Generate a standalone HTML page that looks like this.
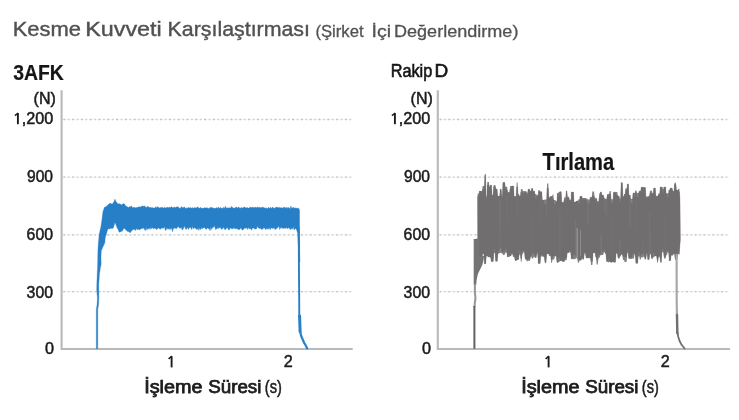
<!DOCTYPE html>
<html><head><meta charset="utf-8">
<style>
html,body{margin:0;padding:0;background:#fff;}
body{width:739px;height:420px;position:relative;overflow:hidden;font-family:"Liberation Sans",sans-serif;}
svg{position:absolute;left:0;top:0;display:block;filter:blur(0.45px);}
text{font-family:"Liberation Sans",sans-serif;}
</style></head><body>
<svg width="739" height="420" viewBox="0 0 739 420">
<text x="12.7" y="36" font-size="21" font-weight="normal" fill="#515151" textLength="68.2" lengthAdjust="spacingAndGlyphs" stroke="#515151" stroke-width="0.4">Kesme</text>
<text x="85.2" y="36" font-size="21" font-weight="normal" fill="#515151" textLength="76.6" lengthAdjust="spacingAndGlyphs" stroke="#515151" stroke-width="0.4">Kuvveti</text>
<text x="167.5" y="36" font-size="21" font-weight="normal" fill="#515151" textLength="142.5" lengthAdjust="spacingAndGlyphs" stroke="#515151" stroke-width="0.4">Karşılaştırması</text>
<text x="315.4" y="36.6" font-size="16.6" font-weight="normal" fill="#525252" textLength="48.2" lengthAdjust="spacingAndGlyphs" stroke="#525252" stroke-width="0.3">(Şirket</text>
<text x="371.6" y="36.6" font-size="16.6" font-weight="normal" fill="#525252" textLength="19.6" lengthAdjust="spacingAndGlyphs" stroke="#525252" stroke-width="0.3">İçi</text>
<text x="394" y="36.6" font-size="16.6" font-weight="normal" fill="#525252" textLength="124.4" lengthAdjust="spacingAndGlyphs" stroke="#525252" stroke-width="0.3">Değerlendirme)</text>
<text x="13.2" y="79.7" font-size="21.4" font-weight="bold" fill="#151515" textLength="50.6" lengthAdjust="spacingAndGlyphs" stroke="#151515" stroke-width="0.2">3AFK</text>
<g stroke="#f5f5f5" stroke-width="1.2" fill="none"><line x1="63.0" y1="119.5" x2="351.8" y2="119.5"/><line x1="63.0" y1="177.2" x2="351.8" y2="177.2"/><line x1="63.0" y1="234.8" x2="351.8" y2="234.8"/><line x1="63.0" y1="291.6" x2="351.8" y2="291.6"/></g><g stroke="#bdbdbd" stroke-width="1.3" stroke-dasharray="1.8,7.0" fill="none"><line x1="63.4" y1="119.5" x2="351.8" y2="119.5"/><line x1="63.4" y1="177.2" x2="351.8" y2="177.2"/><line x1="63.4" y1="234.8" x2="351.8" y2="234.8"/><line x1="63.4" y1="291.6" x2="351.8" y2="291.6"/></g><g stroke="#cfcfcf" stroke-width="1.3" stroke-dasharray="1.8,7.0" fill="none"><line x1="67.8" y1="119.5" x2="351.8" y2="119.5"/><line x1="67.8" y1="177.2" x2="351.8" y2="177.2"/><line x1="67.8" y1="234.8" x2="351.8" y2="234.8"/><line x1="67.8" y1="291.6" x2="351.8" y2="291.6"/></g><path d="M61.6,90.3 V349.0 H352.7" stroke="#b9b9b9" stroke-width="2.1" fill="none"/><text x="33.6" y="104.1" font-size="16.2" font-weight="normal" fill="#1c1c1c" textLength="22.2" lengthAdjust="spacingAndGlyphs" stroke="#1c1c1c" stroke-width="0.5">(N)</text><path d="M17.9,124.2 V113.1" stroke="#1c1c1c" stroke-width="1.9" fill="none"/><path d="M14.9,115.6 L18.2,113.0" stroke="#1c1c1c" stroke-width="1.5" fill="none"/><text x="21.7" y="124.2" font-size="16" font-weight="normal" fill="#1c1c1c" textLength="31.5" lengthAdjust="spacingAndGlyphs" stroke="#1c1c1c" stroke-width="0.5">,200</text><text x="27" y="182.1" font-size="16" font-weight="normal" fill="#1c1c1c" textLength="26.0" lengthAdjust="spacingAndGlyphs" stroke="#1c1c1c" stroke-width="0.5">900</text><text x="26.6" y="240.0" font-size="16" font-weight="normal" fill="#1c1c1c" textLength="26.4" lengthAdjust="spacingAndGlyphs" stroke="#1c1c1c" stroke-width="0.5">600</text><text x="26.6" y="297.5" font-size="16" font-weight="normal" fill="#1c1c1c" textLength="26.4" lengthAdjust="spacingAndGlyphs" stroke="#1c1c1c" stroke-width="0.5">300</text><text x="45" y="354.4" font-size="16" font-weight="normal" fill="#1c1c1c" textLength="9.0" lengthAdjust="spacingAndGlyphs" stroke="#1c1c1c" stroke-width="0.5">0</text><path d="M171.6,367.4 V356.3" stroke="#1c1c1c" stroke-width="1.9" fill="none"/><path d="M168.6,358.8 L171.9,356.2" stroke="#1c1c1c" stroke-width="1.5" fill="none"/><text x="283.8" y="367.3" font-size="16" font-weight="normal" fill="#1c1c1c" textLength="9.0" lengthAdjust="spacingAndGlyphs" stroke="#1c1c1c" stroke-width="0.5">2</text><text x="144.2" y="393.3" font-size="17.5" font-weight="normal" fill="#1c1c1c" textLength="58.4" lengthAdjust="spacingAndGlyphs" stroke="#1c1c1c" stroke-width="0.75">İşleme</text><text x="208.2" y="393.3" font-size="17.5" font-weight="normal" fill="#1c1c1c" textLength="53.2" lengthAdjust="spacingAndGlyphs" stroke="#1c1c1c" stroke-width="0.75">Süresi</text><text x="264.8" y="392.7" font-size="17.5" font-weight="normal" fill="#1c1c1c" textLength="17.0" lengthAdjust="spacingAndGlyphs" stroke="#1c1c1c" stroke-width="0.5">(s)</text>
<path d="M102.9,211.8 L103.7,209.4 L104.5,207.2 L105.3,206.9 L106.1,206.7 L106.9,205.7 L107.7,205.3 L108.5,204.2 L109.3,204.0 L110.1,203.0 L110.9,203.6 L111.7,204.0 L112.5,204.1 L113.3,202.5 L114.1,201.5 L114.9,199.2 L115.7,201.1 L116.5,202.2 L117.3,203.2 L118.1,203.7 L118.9,204.0 L119.7,203.8 L120.5,204.2 L121.3,204.8 L122.1,204.6 L122.9,204.0 L123.7,203.6 L124.5,204.0 L125.3,205.5 L126.1,206.0 L126.9,206.8 L127.7,207.0 L128.5,207.5 L129.3,206.8 L130.1,206.6 L130.9,207.0 L131.7,205.8 L132.5,207.9 L133.3,207.5 L134.1,207.1 L134.9,207.8 L135.7,207.8 L136.5,207.6 L137.3,207.5 L138.1,206.8 L138.9,207.3 L139.7,206.8 L140.5,207.0 L141.3,206.6 L142.1,205.9 L142.9,206.1 L143.7,206.4 L144.5,205.8 L145.3,206.7 L146.1,207.5 L146.9,207.0 L147.7,206.3 L148.5,207.0 L149.3,207.6 L150.1,207.3 L150.9,207.4 L151.7,207.7 L152.5,207.4 L153.3,208.0 L154.1,208.1 L154.9,208.0 L155.7,206.7 L156.5,207.9 L157.3,206.5 L158.1,207.5 L158.9,207.3 L159.7,208.0 L160.5,207.5 L161.3,207.8 L162.1,206.9 L162.9,207.9 L163.7,208.0 L164.5,207.2 L165.3,207.9 L166.1,207.6 L166.9,207.7 L167.7,207.0 L168.5,207.9 L169.3,206.8 L170.1,208.2 L170.9,206.9 L171.7,206.8 L172.5,207.4 L173.3,208.1 L174.1,206.8 L174.9,207.6 L175.7,207.4 L176.5,207.0 L177.3,207.0 L178.1,206.6 L178.9,208.0 L179.7,208.2 L180.5,208.2 L181.3,206.8 L182.1,206.9 L182.9,208.1 L183.7,207.3 L184.5,206.9 L185.3,208.2 L186.1,208.4 L186.9,207.7 L187.7,208.1 L188.5,207.6 L189.3,207.8 L190.1,208.1 L190.9,207.4 L191.7,208.3 L192.5,207.4 L193.3,208.5 L194.1,207.7 L194.9,207.5 L195.7,208.0 L196.5,207.8 L197.3,207.1 L198.1,207.3 L198.9,208.1 L199.7,208.3 L200.5,207.2 L201.3,208.2 L202.1,208.3 L202.9,208.3 L203.7,208.1 L204.5,207.7 L205.3,207.9 L206.1,208.0 L206.9,207.6 L207.7,208.2 L208.5,208.6 L209.3,208.3 L210.1,207.3 L210.9,207.9 L211.7,207.1 L212.5,207.9 L213.3,207.9 L214.1,208.5 L214.9,208.1 L215.7,208.6 L216.5,207.5 L217.3,208.4 L218.1,207.2 L218.9,207.5 L219.7,208.5 L220.5,207.3 L221.3,208.6 L222.1,207.9 L222.9,208.4 L223.7,207.3 L224.5,208.5 L225.3,206.3 L226.1,207.7 L226.9,208.3 L227.7,207.8 L228.5,207.9 L229.3,207.7 L230.1,208.0 L230.9,207.8 L231.7,206.3 L232.5,207.4 L233.3,208.0 L234.1,208.2 L234.9,207.9 L235.7,207.3 L236.5,207.0 L237.3,208.2 L238.1,207.3 L238.9,207.1 L239.7,208.3 L240.5,208.3 L241.3,207.3 L242.1,208.0 L242.9,207.9 L243.7,207.2 L244.5,207.1 L245.3,207.6 L246.1,208.0 L246.9,207.8 L247.7,207.6 L248.5,208.3 L249.3,207.8 L250.1,207.1 L250.9,207.5 L251.7,207.5 L252.5,207.1 L253.3,208.1 L254.1,206.9 L254.9,208.1 L255.7,207.0 L256.5,207.8 L257.3,207.1 L258.1,207.5 L258.9,207.4 L259.7,207.2 L260.5,207.7 L261.3,207.4 L262.1,207.3 L262.9,207.3 L263.7,207.5 L264.5,207.8 L265.3,208.4 L266.1,207.8 L266.9,208.4 L267.7,208.5 L268.5,207.2 L269.3,208.5 L270.1,207.6 L270.9,207.5 L271.7,208.5 L272.5,207.1 L273.3,207.6 L274.1,208.4 L274.9,208.1 L275.7,207.6 L276.5,207.1 L277.3,207.4 L278.1,207.2 L278.9,208.1 L279.7,207.2 L280.5,207.8 L281.3,207.7 L282.1,208.2 L282.9,207.9 L283.7,207.1 L284.5,207.5 L285.3,207.5 L286.1,208.6 L286.9,207.1 L287.7,208.5 L288.5,207.3 L289.3,208.6 L290.1,208.4 L290.9,206.0 L291.7,208.4 L292.5,207.8 L293.3,207.5 L294.1,207.7 L294.9,208.5 L295.7,207.8 L296.5,208.3 L297.3,208.2 L298.1,208.3 L298.9,208.4 L298.9,233.1 L298.1,232.8 L297.3,232.0 L296.5,229.5 L295.7,228.5 L294.9,229.0 L294.1,229.9 L293.3,226.4 L292.5,229.3 L291.7,228.3 L290.9,229.4 L290.1,229.2 L289.3,228.1 L288.5,227.6 L287.7,229.0 L286.9,227.5 L286.1,228.1 L285.3,228.4 L284.5,228.1 L283.7,228.5 L282.9,227.7 L282.1,228.6 L281.3,227.4 L280.5,227.8 L279.7,229.6 L278.9,226.1 L278.1,227.5 L277.3,227.6 L276.5,228.8 L275.7,229.3 L274.9,229.4 L274.1,227.3 L273.3,228.5 L272.5,228.4 L271.7,227.8 L270.9,228.4 L270.1,229.8 L269.3,227.6 L268.5,229.0 L267.7,229.2 L266.9,228.3 L266.1,229.2 L265.3,229.4 L264.5,227.7 L263.7,227.8 L262.9,229.0 L262.1,229.5 L261.3,229.2 L260.5,228.3 L259.7,228.4 L258.9,228.1 L258.1,227.8 L257.3,226.0 L256.5,228.9 L255.7,229.1 L254.9,229.0 L254.1,228.4 L253.3,227.9 L252.5,228.0 L251.7,230.0 L250.9,229.3 L250.1,228.5 L249.3,228.8 L248.5,227.6 L247.7,229.6 L246.9,227.9 L246.1,227.8 L245.3,228.5 L244.5,228.0 L243.7,229.1 L242.9,230.0 L242.1,230.0 L241.3,228.5 L240.5,228.0 L239.7,229.4 L238.9,229.8 L238.1,229.0 L237.3,229.3 L236.5,228.0 L235.7,229.2 L234.9,227.8 L234.1,228.7 L233.3,227.7 L232.5,228.9 L231.7,228.9 L230.9,228.1 L230.1,228.0 L229.3,229.9 L228.5,229.9 L227.7,227.6 L226.9,228.3 L226.1,228.4 L225.3,229.8 L224.5,229.3 L223.7,227.3 L222.9,228.6 L222.1,228.8 L221.3,229.3 L220.5,227.4 L219.7,227.9 L218.9,227.3 L218.1,228.9 L217.3,227.7 L216.5,229.0 L215.7,229.8 L214.9,227.3 L214.1,225.8 L213.3,227.5 L212.5,227.5 L211.7,229.4 L210.9,227.2 L210.1,230.7 L209.3,228.7 L208.5,228.8 L207.7,227.7 L206.9,228.8 L206.1,229.4 L205.3,228.4 L204.5,227.4 L203.7,227.9 L202.9,227.8 L202.1,229.1 L201.3,227.6 L200.5,229.7 L199.7,227.8 L198.9,230.4 L198.1,227.7 L197.3,229.6 L196.5,229.3 L195.7,228.6 L194.9,228.0 L194.1,227.4 L193.3,229.0 L192.5,226.3 L191.7,229.7 L190.9,227.7 L190.1,227.4 L189.3,227.4 L188.5,229.6 L187.7,227.6 L186.9,228.6 L186.1,229.6 L185.3,228.2 L184.5,226.0 L183.7,227.6 L182.9,229.8 L182.1,229.7 L181.3,227.5 L180.5,227.9 L179.7,228.3 L178.9,227.6 L178.1,226.6 L177.3,227.6 L176.5,228.8 L175.7,228.6 L174.9,227.8 L174.1,228.6 L173.3,228.4 L172.5,231.7 L171.7,227.6 L170.9,229.8 L170.1,227.7 L169.3,229.6 L168.5,228.8 L167.7,229.1 L166.9,227.7 L166.1,230.1 L165.3,230.5 L164.5,226.6 L163.7,228.2 L162.9,227.8 L162.1,228.4 L161.3,227.9 L160.5,229.3 L159.7,229.0 L158.9,228.0 L158.1,228.0 L157.3,228.9 L156.5,229.7 L155.7,228.4 L154.9,228.2 L154.1,228.5 L153.3,228.7 L152.5,227.5 L151.7,228.8 L150.9,227.5 L150.1,229.5 L149.3,227.8 L148.5,228.9 L147.7,228.7 L146.9,230.1 L146.1,227.6 L145.3,230.8 L144.5,229.4 L143.7,227.9 L142.9,228.5 L142.1,228.2 L141.3,228.7 L140.5,229.1 L139.7,230.0 L138.9,229.6 L138.1,229.0 L137.3,229.7 L136.5,228.2 L135.7,230.3 L134.9,230.3 L134.1,229.1 L133.3,229.3 L132.5,230.2 L131.7,230.3 L130.9,232.0 L130.1,232.8 L129.3,232.0 L128.5,231.5 L127.7,231.5 L126.9,230.7 L126.1,230.2 L125.3,229.2 L124.5,228.5 L123.7,228.4 L122.9,230.0 L122.1,231.4 L121.3,231.1 L120.5,232.0 L119.7,232.2 L118.9,231.7 L118.1,229.4 L117.3,228.2 L116.5,226.3 L115.7,223.9 L114.9,222.6 L114.1,225.5 L113.3,227.9 L112.5,228.4 L111.7,228.3 L110.9,228.5 L110.1,228.4 L109.3,228.9 L108.5,228.7 L107.7,229.6 L106.9,231.9 L106.1,235.0 L105.3,236.3 L104.5,237.8 L103.7,238.9 L102.9,240.5Z" fill="#2780c7" stroke="#2780c7" stroke-width="0.4" stroke-linejoin="round"/>
<path d="M96.3,348.8 L96.3,309.0 L97.0,305.0 L97.4,298.0 L96.7,291.0 L96.8,284.0 L97.2,274.0 L97.5,268.0 L97.7,260.0 L97.9,250.0 L98.3,244.0 L99.1,234.5 L101.0,226.0 L102.9,213.0 L104.5,213.0 L107.6,226.0 L105.6,234.5 L104.8,243.0 L102.7,247.5 L101.3,250.7 L101.0,258.0 L101.2,264.0 L100.4,268.0 L99.5,274.0 L98.8,284.0 L98.9,298.0 L98.6,305.0 L97.8,309.0 L97.8,348.8Z" fill="#2780c7" stroke="#2780c7" stroke-width="0.3" stroke-linejoin="round"/>
<path d="M297.3,228 L299.6,228 L300.2,262 L298.6,262 Z" fill="#2780c7"/>
<path d="M298.7,210.0 L298.9,262.0 L299.2,300.0 L299.3,317.0" fill="none" stroke="#2780c7" stroke-width="1.9" stroke-linejoin="round" stroke-linecap="round"/>
<path d="M299.6,316.0 L300.1,331.5" fill="none" stroke="#2780c7" stroke-width="3.0" stroke-linecap="round"/>
<path d="M299.9,330.5 L301.2,336.0 L302.6,339.2 L304.2,343.0 L305.6,345.2 L307.2,348.4" fill="none" stroke="#2780c7" stroke-width="2.2" stroke-linejoin="round" stroke-linecap="round"/>
<text x="390.7" y="76.6" font-size="18.7" font-weight="normal" fill="#151515" textLength="41.6" lengthAdjust="spacingAndGlyphs" stroke="#151515" stroke-width="0.6">Rakip</text>
<text x="434.6" y="76.6" font-size="18.7" font-weight="normal" fill="#151515" textLength="13.7" lengthAdjust="spacingAndGlyphs" stroke="#151515" stroke-width="0.6">D</text>
<g stroke="#f5f5f5" stroke-width="1.2" fill="none"><line x1="439.2" y1="119.5" x2="729.1" y2="119.5"/><line x1="439.2" y1="177.2" x2="729.1" y2="177.2"/><line x1="439.2" y1="234.8" x2="729.1" y2="234.8"/><line x1="439.2" y1="291.6" x2="729.1" y2="291.6"/></g><g stroke="#bdbdbd" stroke-width="1.3" stroke-dasharray="1.8,7.0" fill="none"><line x1="439.6" y1="119.5" x2="729.1" y2="119.5"/><line x1="439.6" y1="177.2" x2="729.1" y2="177.2"/><line x1="439.6" y1="234.8" x2="729.1" y2="234.8"/><line x1="439.6" y1="291.6" x2="729.1" y2="291.6"/></g><g stroke="#cfcfcf" stroke-width="1.3" stroke-dasharray="1.8,7.0" fill="none"><line x1="444.0" y1="119.5" x2="729.1" y2="119.5"/><line x1="444.0" y1="177.2" x2="729.1" y2="177.2"/><line x1="444.0" y1="234.8" x2="729.1" y2="234.8"/><line x1="444.0" y1="291.6" x2="729.1" y2="291.6"/></g><path d="M437.8,90.3 V349.0 H730.0" stroke="#b9b9b9" stroke-width="2.1" fill="none"/><text x="410.6" y="104.1" font-size="16.2" font-weight="normal" fill="#1c1c1c" textLength="22.2" lengthAdjust="spacingAndGlyphs" stroke="#1c1c1c" stroke-width="0.5">(N)</text><path d="M394.9,124.2 V113.1" stroke="#1c1c1c" stroke-width="1.9" fill="none"/><path d="M391.9,115.6 L395.2,113.0" stroke="#1c1c1c" stroke-width="1.5" fill="none"/><text x="398.7" y="124.2" font-size="16" font-weight="normal" fill="#1c1c1c" textLength="31.5" lengthAdjust="spacingAndGlyphs" stroke="#1c1c1c" stroke-width="0.5">,200</text><text x="404.0" y="182.1" font-size="16" font-weight="normal" fill="#1c1c1c" textLength="26.0" lengthAdjust="spacingAndGlyphs" stroke="#1c1c1c" stroke-width="0.5">900</text><text x="403.6" y="240.0" font-size="16" font-weight="normal" fill="#1c1c1c" textLength="26.4" lengthAdjust="spacingAndGlyphs" stroke="#1c1c1c" stroke-width="0.5">600</text><text x="403.6" y="297.5" font-size="16" font-weight="normal" fill="#1c1c1c" textLength="26.4" lengthAdjust="spacingAndGlyphs" stroke="#1c1c1c" stroke-width="0.5">300</text><text x="422.0" y="354.4" font-size="16" font-weight="normal" fill="#1c1c1c" textLength="9.0" lengthAdjust="spacingAndGlyphs" stroke="#1c1c1c" stroke-width="0.5">0</text><path d="M548.6,367.4 V356.3" stroke="#1c1c1c" stroke-width="1.9" fill="none"/><path d="M545.6,358.8 L548.9,356.2" stroke="#1c1c1c" stroke-width="1.5" fill="none"/><text x="660.8" y="367.3" font-size="16" font-weight="normal" fill="#1c1c1c" textLength="9.0" lengthAdjust="spacingAndGlyphs" stroke="#1c1c1c" stroke-width="0.5">2</text><text x="521.2" y="393.3" font-size="17.5" font-weight="normal" fill="#1c1c1c" textLength="58.4" lengthAdjust="spacingAndGlyphs" stroke="#1c1c1c" stroke-width="0.75">İşleme</text><text x="585.2" y="393.3" font-size="17.5" font-weight="normal" fill="#1c1c1c" textLength="53.2" lengthAdjust="spacingAndGlyphs" stroke="#1c1c1c" stroke-width="0.75">Süresi</text><text x="641.8" y="392.7" font-size="17.5" font-weight="normal" fill="#1c1c1c" textLength="17.0" lengthAdjust="spacingAndGlyphs" stroke="#1c1c1c" stroke-width="0.5">(s)</text>
<text x="542.6" y="169.6" font-size="23.6" font-weight="bold" fill="#151515" textLength="71.6" lengthAdjust="spacingAndGlyphs" stroke="#151515" stroke-width="0.2">Tırlama</text>
<path d="M477.6,193.4 L478.9,193.4 L479.4,191.1 L480.7,191.1 L481.2,191.1 L482.1,191.1 L482.6,186.0 L484.4,186.0 L484.9,174.5 L485.6,174.5 L486.1,196.5 L486.8,196.5 L487.3,182.0 L488.9,182.0 L489.4,187.1 L490.0,187.1 L490.5,185.1 L491.5,185.1 L492.0,195.1 L493.2,195.1 L493.7,185.0 L495.3,185.0 L495.8,189.1 L497.1,189.1 L497.6,196.3 L499.7,196.3 L500.2,189.3 L501.2,189.3 L501.7,195.8 L502.4,195.8 L502.9,182.5 L504.8,182.5 L505.3,186.8 L507.2,186.8 L507.7,192.6 L509.6,192.6 L510.1,186.0 L511.3,186.0 L511.8,186.0 L513.6,186.0 L514.1,196.4 L516.2,196.4 L516.7,182.4 L517.6,182.4 L518.1,194.1 L519.0,194.1 L519.5,196.3 L520.4,196.3 L520.9,189.0 L522.4,189.0 L522.9,190.9 L523.9,190.9 L524.4,191.5 L526.2,191.5 L526.7,192.7 L527.6,192.7 L528.1,189.2 L529.6,189.2 L530.1,191.2 L531.1,191.2 L531.6,188.4 L532.7,188.4 L533.2,191.2 L534.6,191.2 L535.1,193.9 L536.3,193.9 L536.8,195.4 L538.1,195.4 L538.6,190.5 L539.5,190.5 L540.0,191.7 L541.8,191.7 L542.3,200.2 L544.0,200.2 L544.5,199.6 L546.6,199.6 L547.1,183.6 L548.3,183.6 L548.8,197.8 L549.7,197.8 L550.2,196.6 L552.1,196.6 L552.6,194.4 L553.4,194.4 L553.9,200.0 L555.4,200.0 L555.9,200.9 L556.9,200.9 L557.4,193.2 L558.0,193.2 L558.5,192.2 L559.2,192.2 L559.7,191.8 L561.2,191.8 L561.7,202.1 L563.6,202.1 L564.1,197.6 L565.7,197.6 L566.2,190.9 L566.9,190.9 L567.4,196.8 L569.0,196.8 L569.5,199.7 L570.9,199.7 L571.4,192.0 L573.5,192.0 L574.0,202.1 L575.7,202.1 L576.2,201.0 L577.8,201.0 L578.3,199.6 L579.5,199.6 L580.0,196.3 L581.9,196.3 L582.4,198.0 L584.3,198.0 L584.8,197.9 L585.9,197.9 L586.4,198.5 L587.2,198.5 L587.7,199.5 L589.6,199.5 L590.1,197.6 L591.8,197.6 L592.3,191.4 L594.1,191.4 L594.6,197.5 L595.3,197.5 L595.8,198.6 L596.7,198.6 L597.2,201.2 L598.7,201.2 L599.2,193.6 L599.9,193.6 L600.4,192.0 L601.3,192.0 L601.8,195.1 L603.4,195.1 L603.9,197.7 L604.9,197.7 L605.4,199.2 L606.7,199.2 L607.2,194.0 L609.1,194.0 L609.6,190.9 L610.7,190.9 L611.2,199.3 L613.0,199.3 L613.5,192.2 L615.6,192.2 L616.1,192.0 L617.3,192.0 L617.8,196.1 L619.1,196.1 L619.6,198.6 L620.6,198.6 L621.1,182.7 L622.4,182.7 L622.9,196.7 L623.6,196.7 L624.1,194.0 L625.1,194.0 L625.6,188.2 L626.9,188.2 L627.4,183.9 L628.4,183.9 L628.9,195.1 L630.2,195.1 L630.7,198.8 L632.5,198.8 L633.0,192.9 L633.9,192.9 L634.4,192.7 L635.0,192.7 L635.5,190.2 L636.3,190.2 L636.8,193.0 L638.5,193.0 L639.0,191.2 L640.7,191.2 L641.2,187.3 L643.2,187.3 L643.7,187.5 L645.4,187.5 L645.9,196.6 L647.4,196.6 L647.9,196.0 L649.4,196.0 L649.9,190.7 L651.9,190.7 L652.4,193.6 L653.3,193.6 L653.8,188.0 L655.3,188.0 L655.8,196.2 L657.8,196.2 L658.3,193.6 L659.7,193.6 L660.2,187.0 L662.2,187.0 L662.7,189.2 L663.4,189.2 L663.9,187.0 L665.6,187.0 L666.1,193.4 L666.8,193.4 L667.3,193.2 L668.4,193.2 L668.9,189.9 L669.8,189.9 L670.3,188.0 L672.1,188.0 L672.6,191.1 L674.0,191.1 L674.5,182.8 L675.9,182.8 L676.4,190.0 L677.9,190.0 L678.4,188.8 L679.4,188.8 L680.0,200.0 L680.3,240.0 L679.2,254.3 L679.4,254.3 L678.7,254.2 L677.7,254.2 L677.0,260.0 L675.2,260.0 L674.5,254.1 L673.7,254.1 L673.0,255.6 L671.2,255.6 L670.5,260.8 L669.3,260.8 L668.6,252.5 L667.6,252.5 L666.9,255.0 L666.3,255.0 L665.6,258.6 L664.1,258.6 L663.4,252.2 L662.0,252.2 L661.3,262.3 L660.5,262.3 L659.8,256.5 L658.5,256.5 L657.8,262.9 L657.3,262.9 L656.6,255.9 L654.8,255.9 L654.1,257.2 L653.2,257.2 L652.5,258.4 L651.5,258.4 L650.8,254.2 L649.8,254.2 L649.1,259.6 L647.8,259.6 L647.1,252.8 L646.6,252.8 L645.9,259.4 L644.9,259.4 L644.2,256.7 L643.3,256.7 L642.6,257.5 L641.2,257.5 L640.5,259.7 L639.9,259.7 L639.2,256.2 L638.4,256.2 L637.7,263.2 L635.9,263.2 L635.2,254.4 L634.6,254.4 L633.9,258.4 L632.6,258.4 L631.9,259.0 L631.1,259.0 L630.4,258.4 L628.8,258.4 L628.1,253.0 L627.3,253.0 L626.6,261.9 L624.7,261.9 L624.0,260.1 L623.0,260.1 L622.3,254.7 L621.2,254.7 L620.5,256.6 L619.9,256.6 L619.2,258.2 L618.1,258.2 L617.4,253.2 L616.1,253.2 L615.4,262.3 L614.3,262.3 L613.6,261.9 L612.5,261.9 L611.8,262.3 L610.6,262.3 L609.9,261.6 L609.4,261.6 L608.7,262.5 L608.3,262.5 L607.6,261.5 L606.6,261.5 L605.9,253.8 L605.4,253.8 L604.7,252.3 L603.9,252.3 L603.2,255.1 L601.9,255.1 L601.2,255.2 L600.3,255.2 L599.6,257.7 L598.5,257.7 L597.8,264.4 L596.7,264.4 L596.0,257.2 L595.4,257.2 L594.7,252.7 L593.1,252.7 L592.4,265.1 L591.1,265.1 L590.4,258.2 L588.5,258.2 L587.8,258.0 L586.1,258.0 L585.4,253.2 L584.4,253.2 L583.7,259.2 L582.9,259.2 L582.2,258.7 L581.8,258.7 L581.1,260.2 L579.6,260.2 L578.9,262.7 L577.9,262.7 L577.2,258.2 L575.8,258.2 L575.1,259.2 L573.3,259.2 L572.6,258.8 L571.3,258.8 L570.6,252.3 L569.5,252.3 L568.8,252.9 L567.3,252.9 L566.6,260.2 L565.0,260.2 L564.3,261.4 L562.6,261.4 L561.9,260.8 L560.3,260.8 L559.6,261.7 L558.8,261.7 L558.1,262.4 L557.0,262.4 L556.3,256.3 L554.9,256.3 L554.2,259.4 L552.6,259.4 L551.9,262.9 L551.3,262.9 L550.6,256.1 L549.1,256.1 L548.4,253.7 L546.7,253.7 L546.0,262.8 L545.0,262.8 L544.3,256.6 L543.4,256.6 L542.7,256.4 L540.8,256.4 L540.1,263.5 L538.3,263.5 L537.6,253.6 L536.9,253.6 L536.2,257.4 L535.0,257.4 L534.3,256.7 L533.8,256.7 L533.1,258.5 L531.9,258.5 L531.2,256.5 L530.7,256.5 L530.0,260.8 L528.6,260.8 L527.9,261.2 L526.8,261.2 L526.1,259.6 L525.1,259.6 L524.4,252.3 L523.6,252.3 L522.9,253.8 L522.3,253.8 L521.6,261.8 L520.9,261.8 L520.2,254.7 L519.3,254.7 L518.6,259.9 L517.1,259.9 L516.4,260.4 L515.1,260.4 L514.4,257.0 L513.0,257.0 L512.3,253.6 L511.7,253.6 L511.0,255.9 L510.0,255.9 L509.3,257.1 L508.6,257.1 L507.9,256.9 L507.4,256.9 L506.7,252.7 L505.3,252.7 L504.6,255.0 L503.2,255.0 L502.5,253.7 L502.1,253.7 L501.4,253.1 L499.6,253.1 L498.9,253.7 L498.0,253.7 L497.3,261.2 L495.7,261.2 L495.0,253.0 L493.9,253.0 L493.2,261.4 L491.3,261.4 L490.6,257.4 L490.1,257.4 L489.4,256.9 L488.2,256.9 L487.5,255.9 L486.3,255.9 L485.6,263.9 L484.5,263.9 L483.8,254.1 L482.5,254.1 L481.8,263.0 L480.1,263.0 L479.4,264.7 L477.8,264.7Z" fill="#838182"/>
<path d="M477.6,196.4 L478.9,196.4 L479.4,191.1 L480.7,191.1 L481.2,192.6 L482.1,192.6 L482.6,189.0 L484.4,189.0 L484.9,174.5 L485.6,174.5 L486.1,199.5 L486.8,199.5 L487.3,185.0 L488.9,185.0 L489.4,187.1 L490.0,187.1 L490.5,185.1 L491.5,185.1 L492.0,195.1 L493.2,195.1 L493.7,186.5 L495.3,186.5 L495.8,189.1 L497.1,189.1 L497.6,196.3 L499.7,196.3 L500.2,189.3 L501.2,189.3 L501.7,198.8 L502.4,198.8 L502.9,182.5 L504.8,182.5 L505.3,189.8 L507.2,189.8 L507.7,192.6 L509.6,192.6 L510.1,189.0 L511.3,189.0 L511.8,186.0 L513.6,186.0 L514.1,196.4 L516.2,196.4 L516.7,186.9 L517.6,186.9 L518.1,195.6 L519.0,195.6 L519.5,196.3 L520.4,196.3 L520.9,192.0 L522.4,192.0 L522.9,193.9 L523.9,193.9 L524.4,191.5 L526.2,191.5 L526.7,195.7 L527.6,195.7 L528.1,189.2 L529.6,189.2 L530.1,191.2 L531.1,191.2 L531.6,188.4 L532.7,188.4 L533.2,191.2 L534.6,191.2 L535.1,198.4 L536.3,198.4 L536.8,195.4 L538.1,195.4 L538.6,190.5 L539.5,190.5 L540.0,191.7 L541.8,191.7 L542.3,200.2 L544.0,200.2 L544.5,204.1 L546.6,204.1 L547.1,188.1 L548.3,188.1 L548.8,197.8 L549.7,197.8 L550.2,196.6 L552.1,196.6 L552.6,198.9 L553.4,198.9 L553.9,204.5 L555.4,204.5 L555.9,202.4 L556.9,202.4 L557.4,193.2 L558.0,193.2 L558.5,196.7 L559.2,196.7 L559.7,191.8 L561.2,191.8 L561.7,203.6 L563.6,203.6 L564.1,200.6 L565.7,200.6 L566.2,190.9 L566.9,190.9 L567.4,198.3 L569.0,198.3 L569.5,201.2 L570.9,201.2 L571.4,192.0 L573.5,192.0 L574.0,202.1 L575.7,202.1 L576.2,201.0 L577.8,201.0 L578.3,204.1 L579.5,204.1 L580.0,196.3 L581.9,196.3 L582.4,199.5 L584.3,199.5 L584.8,199.4 L585.9,199.4 L586.4,201.5 L587.2,201.5 L587.7,204.0 L589.6,204.0 L590.1,197.6 L591.8,197.6 L592.3,195.9 L594.1,195.9 L594.6,200.5 L595.3,200.5 L595.8,198.6 L596.7,198.6 L597.2,202.7 L598.7,202.7 L599.2,198.1 L599.9,198.1 L600.4,192.0 L601.3,192.0 L601.8,195.1 L603.4,195.1 L603.9,199.2 L604.9,199.2 L605.4,199.2 L606.7,199.2 L607.2,195.5 L609.1,195.5 L609.6,193.9 L610.7,193.9 L611.2,203.8 L613.0,203.8 L613.5,192.2 L615.6,192.2 L616.1,195.0 L617.3,195.0 L617.8,196.1 L619.1,196.1 L619.6,203.1 L620.6,203.1 L621.1,182.7 L622.4,182.7 L622.9,196.7 L623.6,196.7 L624.1,195.5 L625.1,195.5 L625.6,189.7 L626.9,189.7 L627.4,183.9 L628.4,183.9 L628.9,195.1 L630.2,195.1 L630.7,203.3 L632.5,203.3 L633.0,192.9 L633.9,192.9 L634.4,197.2 L635.0,197.2 L635.5,191.7 L636.3,191.7 L636.8,197.5 L638.5,197.5 L639.0,191.2 L640.7,191.2 L641.2,187.3 L643.2,187.3 L643.7,187.5 L645.4,187.5 L645.9,198.1 L647.4,198.1 L647.9,197.5 L649.4,197.5 L649.9,193.7 L651.9,193.7 L652.4,193.6 L653.3,193.6 L653.8,188.0 L655.3,188.0 L655.8,196.2 L657.8,196.2 L658.3,195.1 L659.7,195.1 L660.2,187.0 L662.2,187.0 L662.7,193.7 L663.4,193.7 L663.9,187.0 L665.6,187.0 L666.1,193.4 L666.8,193.4 L667.3,197.7 L668.4,197.7 L668.9,189.9 L669.8,189.9 L670.3,188.0 L672.1,188.0 L672.6,191.1 L674.0,191.1 L674.5,184.3 L675.9,184.3 L676.4,190.0 L677.9,190.0 L678.4,191.8 L679.4,191.8 L680.0,200.0 L680.3,240.0 L679.2,254.3 L679.4,254.3 L678.7,252.2 L677.7,252.2 L677.0,259.0 L675.2,259.0 L674.5,253.1 L673.7,253.1 L673.0,254.6 L671.2,254.6 L670.5,260.8 L669.3,260.8 L668.6,250.5 L667.6,250.5 L666.9,251.5 L666.3,251.5 L665.6,256.6 L664.1,256.6 L663.4,248.7 L662.0,248.7 L661.3,262.3 L660.5,262.3 L659.8,256.5 L658.5,256.5 L657.8,260.9 L657.3,260.9 L656.6,255.9 L654.8,255.9 L654.1,252.2 L653.2,252.2 L652.5,258.4 L651.5,258.4 L650.8,252.2 L649.8,252.2 L649.1,259.6 L647.8,259.6 L647.1,252.8 L646.6,252.8 L645.9,258.4 L644.9,258.4 L644.2,253.2 L643.3,253.2 L642.6,254.0 L641.2,254.0 L640.5,256.2 L639.9,256.2 L639.2,251.2 L638.4,251.2 L637.7,263.2 L635.9,263.2 L635.2,252.4 L634.6,252.4 L633.9,253.4 L632.6,253.4 L631.9,257.0 L631.1,257.0 L630.4,258.4 L628.8,258.4 L628.1,249.5 L627.3,249.5 L626.6,256.9 L624.7,256.9 L624.0,256.6 L623.0,256.6 L622.3,253.7 L621.2,253.7 L620.5,255.6 L619.9,255.6 L619.2,258.2 L618.1,258.2 L617.4,253.2 L616.1,253.2 L615.4,262.3 L614.3,262.3 L613.6,261.9 L612.5,261.9 L611.8,262.3 L610.6,262.3 L609.9,261.6 L609.4,261.6 L608.7,259.0 L608.3,259.0 L607.6,261.5 L606.6,261.5 L605.9,253.8 L605.4,253.8 L604.7,248.8 L603.9,248.8 L603.2,251.6 L601.9,251.6 L601.2,254.2 L600.3,254.2 L599.6,254.2 L598.5,254.2 L597.8,259.4 L596.7,259.4 L596.0,252.2 L595.4,252.2 L594.7,252.7 L593.1,252.7 L592.4,261.6 L591.1,261.6 L590.4,257.2 L588.5,257.2 L587.8,258.0 L586.1,258.0 L585.4,252.2 L584.4,252.2 L583.7,259.2 L582.9,259.2 L582.2,256.7 L581.8,256.7 L581.1,260.2 L579.6,260.2 L578.9,259.2 L577.9,259.2 L577.2,256.2 L575.8,256.2 L575.1,254.2 L573.3,254.2 L572.6,258.8 L571.3,258.8 L570.6,250.3 L569.5,250.3 L568.8,251.9 L567.3,251.9 L566.6,258.2 L565.0,258.2 L564.3,261.4 L562.6,261.4 L561.9,260.8 L560.3,260.8 L559.6,256.7 L558.8,256.7 L558.1,262.4 L557.0,262.4 L556.3,255.3 L554.9,255.3 L554.2,255.9 L552.6,255.9 L551.9,259.4 L551.3,259.4 L550.6,254.1 L549.1,254.1 L548.4,253.7 L546.7,253.7 L546.0,262.8 L545.0,262.8 L544.3,256.6 L543.4,256.6 L542.7,254.4 L540.8,254.4 L540.1,263.5 L538.3,263.5 L537.6,251.6 L536.9,251.6 L536.2,257.4 L535.0,257.4 L534.3,253.2 L533.8,253.2 L533.1,253.5 L531.9,253.5 L531.2,255.5 L530.7,255.5 L530.0,258.8 L528.6,258.8 L527.9,259.2 L526.8,259.2 L526.1,258.6 L525.1,258.6 L524.4,250.3 L523.6,250.3 L522.9,250.3 L522.3,250.3 L521.6,258.3 L520.9,258.3 L520.2,249.7 L519.3,249.7 L518.6,258.9 L517.1,258.9 L516.4,260.4 L515.1,260.4 L514.4,255.0 L513.0,255.0 L512.3,252.6 L511.7,252.6 L511.0,255.9 L510.0,255.9 L509.3,255.1 L508.6,255.1 L507.9,256.9 L507.4,256.9 L506.7,249.2 L505.3,249.2 L504.6,251.5 L503.2,251.5 L502.5,251.7 L502.1,251.7 L501.4,248.1 L499.6,248.1 L498.9,250.2 L498.0,250.2 L497.3,261.2 L495.7,261.2 L495.0,249.5 L493.9,249.5 L493.2,261.4 L491.3,261.4 L490.6,256.4 L490.1,256.4 L489.4,256.9 L488.2,256.9 L487.5,255.9 L486.3,255.9 L485.6,263.9 L484.5,263.9 L483.8,253.1 L482.5,253.1 L481.8,263.0 L480.1,263.0 L479.4,262.7 L477.8,262.7Z" fill="#706e6f" stroke="#706e6f" stroke-width="0.3" stroke-linejoin="round"/>
<line x1="590.2" y1="238.5" x2="590.2" y2="255.5" stroke="#fff" stroke-opacity="0.04" stroke-width="0.7"/><line x1="612.2" y1="216.5" x2="612.2" y2="255.1" stroke="#fff" stroke-opacity="0.05" stroke-width="0.8"/><line x1="651.0" y1="231.8" x2="651.0" y2="255.6" stroke="#fff" stroke-opacity="0.05" stroke-width="0.9"/><line x1="649.5" y1="212.6" x2="649.5" y2="254.7" stroke="#fff" stroke-opacity="0.05" stroke-width="0.9"/><line x1="665.6" y1="215.8" x2="665.6" y2="253.5" stroke="#fff" stroke-opacity="0.07" stroke-width="0.6"/><line x1="517.4" y1="194.5" x2="517.4" y2="218.8" stroke="#fff" stroke-opacity="0.06" stroke-width="0.8"/><line x1="606.8" y1="198.3" x2="606.8" y2="216.3" stroke="#fff" stroke-opacity="0.08" stroke-width="0.7"/><line x1="604.8" y1="197.3" x2="604.8" y2="213.4" stroke="#fff" stroke-opacity="0.07" stroke-width="0.9"/><line x1="499.9" y1="198.9" x2="499.9" y2="226.9" stroke="#fff" stroke-opacity="0.09" stroke-width="0.7"/><line x1="643.0" y1="235.9" x2="643.0" y2="257.1" stroke="#fff" stroke-opacity="0.05" stroke-width="0.9"/><line x1="575.6" y1="218.9" x2="575.6" y2="255.7" stroke="#fff" stroke-opacity="0.08" stroke-width="0.7"/><line x1="636.2" y1="199.3" x2="636.2" y2="230.2" stroke="#fff" stroke-opacity="0.06" stroke-width="0.7"/><line x1="540.7" y1="198.6" x2="540.7" y2="219.7" stroke="#fff" stroke-opacity="0.06" stroke-width="0.7"/><line x1="500.3" y1="225.5" x2="500.3" y2="256.7" stroke="#fff" stroke-opacity="0.06" stroke-width="0.7"/><line x1="601.2" y1="234.9" x2="601.2" y2="255.9" stroke="#fff" stroke-opacity="0.10" stroke-width="1.0"/><line x1="620.0" y1="239.9" x2="620.0" y2="255.7" stroke="#fff" stroke-opacity="0.08" stroke-width="0.9"/><line x1="507.0" y1="195.9" x2="507.0" y2="220.9" stroke="#fff" stroke-opacity="0.05" stroke-width="0.9"/><line x1="532.7" y1="218.6" x2="532.7" y2="255.5" stroke="#fff" stroke-opacity="0.05" stroke-width="0.8"/><line x1="588.1" y1="202.8" x2="588.1" y2="222.8" stroke="#fff" stroke-opacity="0.08" stroke-width="1.0"/><line x1="546.3" y1="201.2" x2="546.3" y2="216.3" stroke="#fff" stroke-opacity="0.08" stroke-width="0.7"/><line x1="630.1" y1="195.0" x2="630.1" y2="227.9" stroke="#fff" stroke-opacity="0.09" stroke-width="0.8"/><line x1="559.9" y1="209.5" x2="559.9" y2="254.5" stroke="#fff" stroke-opacity="0.05" stroke-width="0.9"/><line x1="577.2" y1="228.0" x2="577.2" y2="258.0" stroke="#fff" stroke-opacity="0.28" stroke-width="1.3"/><line x1="580.5" y1="230.0" x2="580.5" y2="256.0" stroke="#fff" stroke-opacity="0.20" stroke-width="1.0"/>
<path d="M473.7,239.0 L479.0,238.6 L479.0,256.0 L484.0,256.0 L483.5,260.0 L482.3,265.0 L479.8,270.0 L477.9,274.0 L476.6,280.0 L476.2,285.0 L473.7,285.0Z" fill="#757374"/>
<path d="M475.0,284.0 L474.8,292.0 L475.5,298.0 L474.8,303.0 L474.5,307.0" fill="none" stroke="#9a9899" stroke-width="2.1" stroke-linejoin="round"/>
<path d="M474.4,348.8 L474.4,306.0" fill="none" stroke="#615f60" stroke-width="2.0"/>
<path d="M676.6,254.0 L676.7,300.0 L677.0,318.0" fill="none" stroke="#a9a7a8" stroke-width="2.2"/>
<path d="M677.0,315.0 L677.3,333.0" fill="none" stroke="#706e6f" stroke-width="2.4" stroke-linecap="round"/>
<path d="M677.4,332.0 L678.3,337.0 L679.6,341.0 L681.6,344.8 L684.6,348.5" fill="none" stroke="#706e6f" stroke-width="1.8" stroke-linejoin="round" stroke-linecap="round"/>
</svg>
</body></html>
